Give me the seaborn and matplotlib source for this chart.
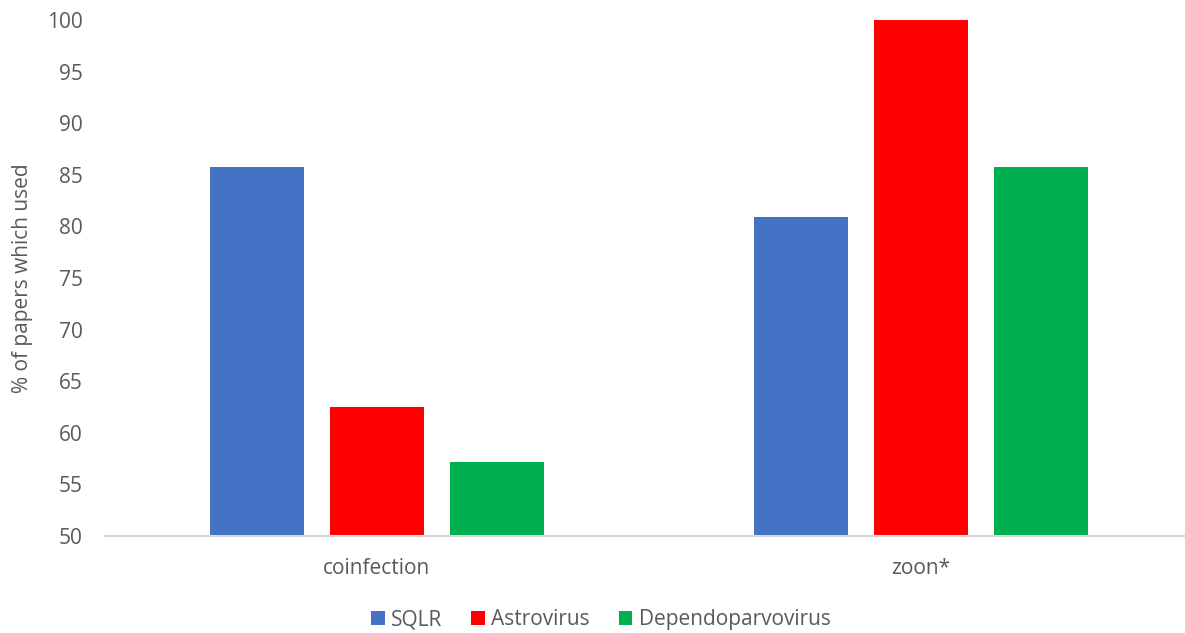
import matplotlib.pyplot as plt
import seaborn as sns
import pandas as pd

categories = ['coinfection', 'zoon*']
viruses = ['SQLR', 'Astrovirus', 'Dependoparvovirus']
sqlr = [85.71, 80.95]
astrovirus = [62.5, 100.0]
dependoparvovirus = [57.14, 85.71]
colors = ['#4472C4', '#FF0000', '#00B050']

df = pd.DataFrame({
    'category': categories * 3,
    'virus': [v for v in viruses for _ in categories],
    'pct': sqlr + astrovirus + dependoparvovirus,
})

sns.set_style('white')
plt.rcParams['font.family'] = ['Open Sans', 'DejaVu Sans']
text_color = '#595959'
fs = 15

fig = plt.figure(figsize=(11.85, 6.33), dpi=100)
ax = fig.add_axes([105 / 1185, 97 / 633, 1080 / 1185, 516 / 633])

sns.barplot(data=df, x='category', y='pct', hue='virus', hue_order=viruses,
            order=categories, palette=colors, width=0.662, gap=0.21,
            saturation=1, linewidth=0, ax=ax, legend=True)

ax.set_ylim(50, 100)
ax.set_yticks(range(50, 101, 5))
ax.set_xlim(-0.5, -0.5 + 1080 / 544)
ax.set_xlabel('')
ax.set_ylabel('% of papers which used', fontsize=fs, color=text_color, labelpad=10)
ax.tick_params(axis='y', length=0, pad=16, labelsize=fs, labelcolor=text_color)
ax.tick_params(axis='x', length=0, pad=16, labelsize=fs, labelcolor=text_color)

sns.despine(ax=ax, left=True, right=True, top=True)
ax.spines['bottom'].set_color('#D9D9D9')
ax.spines['bottom'].set_linewidth(1.5)

ax.get_legend().remove()
handles, labels = ax.get_legend_handles_labels()
fig.legend(handles, labels, loc='center', bbox_to_anchor=(0.507, 0.021),
           ncol=3, frameon=False, fontsize=fs, labelcolor=text_color,
           handlelength=0.65, handleheight=0.65, handletextpad=0.3,
           columnspacing=1.4)

fig.savefig('out.png', dpi=100)
plt.close()
